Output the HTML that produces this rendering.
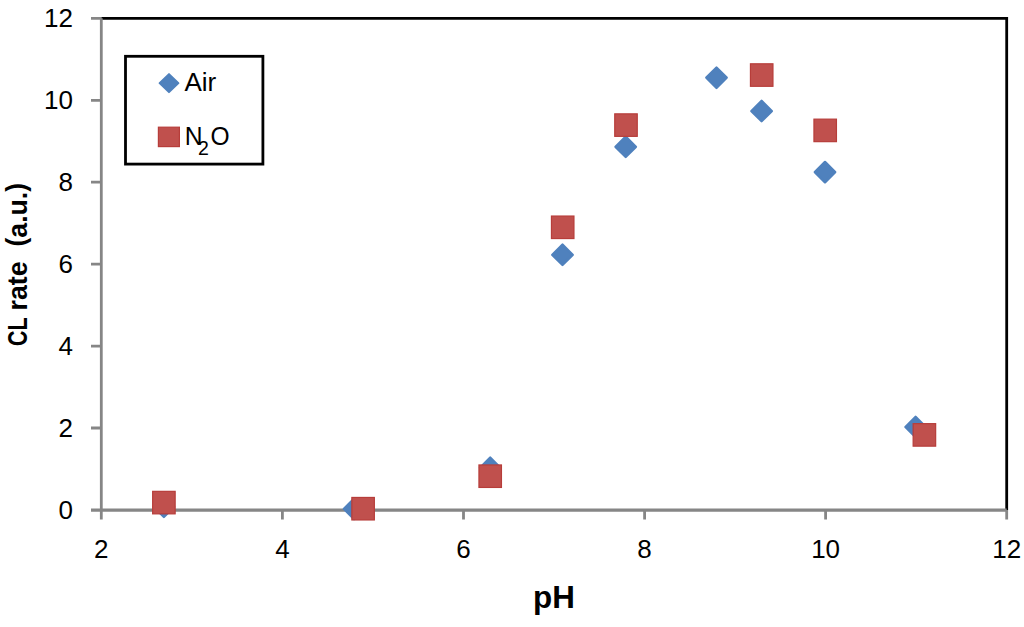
<!DOCTYPE html>
<html>
<head>
<meta charset="utf-8">
<style>
html,body{margin:0;padding:0;background:#fff;}
body{width:1024px;height:627px;overflow:hidden;}
svg{display:block;}
text{font-family:"Liberation Sans",sans-serif;fill:#000;}
</style>
</head>
<body>
<svg width="1024" height="627" viewBox="0 0 1024 627" xmlns="http://www.w3.org/2000/svg">
<rect x="0" y="0" width="1024" height="627" fill="#fff"/>
<!-- plot area border (top & right) -->
<path d="M101.3 18.3 H1006.7 V510" fill="none" stroke="#000" stroke-width="2.8"/>
<!-- y axis + ticks -->
<g stroke="#868686" stroke-width="2.8" fill="none">
<path d="M101.3 18.3 V519.5"/>
<path d="M91 18.3 H101.3 M91 100.3 H101.3 M91 182.2 H101.3 M91 264.2 H101.3 M91 346.1 H101.3 M91 428 H101.3"/>
<path d="M91 510.1 H1006.7" stroke-width="3.3"/>
<path d="M282.4 510 V519.5 M463.5 510 V519.5 M644.6 510 V519.5 M825.6 510 V519.5 M1006.7 510 V519.5"/>
</g>
<!-- y tick labels -->
<g font-size="26" text-anchor="end">
<text x="73" y="27">12</text>
<text x="73" y="109">10</text>
<text x="73" y="191">8</text>
<text x="73" y="273">6</text>
<text x="73" y="355">4</text>
<text x="73" y="437">2</text>
<text x="73" y="519">0</text>
</g>
<!-- x tick labels -->
<g font-size="26" text-anchor="middle">
<text x="101.3" y="557.5">2</text>
<text x="282.4" y="557.5">4</text>
<text x="463.5" y="557.5">6</text>
<text x="644.6" y="557.5">8</text>
<text x="825.6" y="557.5">10</text>
<text x="1006.7" y="557.5">12</text>
</g>
<!-- axis titles -->
<text x="554" y="607.7" font-size="31.4" font-weight="bold" text-anchor="middle">pH</text>
<g transform="translate(26.5 0) rotate(-90)" font-size="28.3" font-weight="bold">
<text x="-346" textLength="28.5" lengthAdjust="spacingAndGlyphs">CL</text>
<text x="-310.5" textLength="49" lengthAdjust="spacingAndGlyphs">rate</text>
<text x="-246.5" y="-1.3" textLength="63.5" lengthAdjust="spacingAndGlyphs">(<tspan dy="1.3">a.u.</tspan><tspan dy="-1.3">)</tspan></text>
</g>
<!-- Air series (diamonds) -->
<g fill="#4F81BD" stroke="#4F81BD" stroke-width="2.4" stroke-linejoin="round">
<path d="M163.90 496.60 l10.2 10.2 l-10.2 10.2 l-10.2 -10.2 z"/>
<path d="M354.10 498.70 l10.2 10.2 l-10.2 10.2 l-10.2 -10.2 z"/>
<path d="M490.20 457.60 l10.2 10.2 l-10.2 10.2 l-10.2 -10.2 z"/>
<path d="M562.50 244.60 l10.2 10.2 l-10.2 10.2 l-10.2 -10.2 z"/>
<path d="M625.70 136.60 l10.2 10.2 l-10.2 10.2 l-10.2 -10.2 z"/>
<path d="M716.50 67.50 l10.2 10.2 l-10.2 10.2 l-10.2 -10.2 z"/>
<path d="M761.60 100.85 l10.2 10.2 l-10.2 10.2 l-10.2 -10.2 z"/>
<path d="M825.00 161.90 l10.2 10.2 l-10.2 10.2 l-10.2 -10.2 z"/>
<path d="M915.60 416.80 l10.2 10.2 l-10.2 10.2 l-10.2 -10.2 z"/>
</g>
<!-- N2O series (squares) -->
<g fill="#C0504D" stroke="#B73D3A" stroke-width="1.2">
<rect x="152.65" y="491.35" width="22.5" height="22.5"/>
<rect x="351.85" y="497.45" width="22.5" height="22.5"/>
<rect x="478.95" y="464.95" width="22.5" height="22.5"/>
<rect x="551.45" y="216.05" width="22.5" height="22.5"/>
<rect x="614.75" y="113.85" width="22.5" height="22.5"/>
<rect x="750.45" y="63.80" width="22.5" height="22.5"/>
<rect x="813.95" y="119.15" width="22.5" height="22.5"/>
<rect x="913.15" y="423.65" width="22.5" height="22.5"/>
</g>
<!-- legend -->
<rect x="125.5" y="56.3" width="137.4" height="107.8" fill="#fff" stroke="#000" stroke-width="2.8"/>
<path d="M169 74.1 l9.4 9 l-9.4 9 l-9.4 -9 z" fill="#4F81BD" stroke="#4F81BD" stroke-width="2" stroke-linejoin="round"/>
<text x="184.4" y="91.3" font-size="26">Air</text>
<rect x="158.4" y="127.2" width="21" height="19.4" fill="#C0504D" stroke="#B73D3A" stroke-width="1.2"/>
<text x="184.7" y="144.6" font-size="26" textLength="17.8" lengthAdjust="spacingAndGlyphs">N</text>
<text x="198" y="154.8" font-size="19.5">2</text>
<text x="210.4" y="144.6" font-size="26" textLength="19.1" lengthAdjust="spacingAndGlyphs">O</text>
</svg>
</body>
</html>
